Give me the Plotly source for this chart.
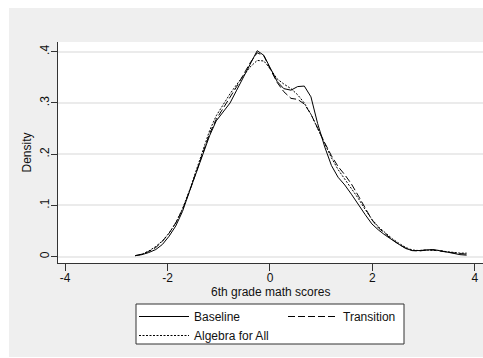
import plotly.graph_objects as go

# Kernel density estimates of standardized 6th grade math scores (50-point grid)
score_grid = [
    -2.63, -2.50, -2.37, -2.23, -2.10, -1.97, -1.84, -1.71, -1.57, -1.44,
    -1.31, -1.18, -1.05, -0.91, -0.78, -0.65, -0.52, -0.39, -0.25, -0.12,
    0.01, 0.14, 0.27, 0.41, 0.54, 0.67, 0.80, 0.93, 1.07, 1.20,
    1.33, 1.46, 1.59, 1.73, 1.86, 1.99, 2.12, 2.25, 2.39, 2.52,
    2.65, 2.78, 2.91, 3.05, 3.18, 3.31, 3.44, 3.57, 3.71, 3.84,
]

baseline_density = [
    0.002, 0.004, 0.008, 0.014, 0.024, 0.040, 0.060, 0.088, 0.128, 0.165,
    0.200, 0.236, 0.265, 0.283, 0.300, 0.325, 0.351, 0.377, 0.402, 0.393,
    0.367, 0.342, 0.328, 0.325, 0.332, 0.333, 0.312, 0.260, 0.214, 0.178,
    0.155, 0.140, 0.122, 0.100, 0.082, 0.064, 0.052, 0.042, 0.032, 0.024,
    0.016, 0.012, 0.012, 0.013, 0.014, 0.012, 0.009, 0.006, 0.004, 0.003,
]

transition_density = [
    0.002, 0.005, 0.010, 0.018, 0.030, 0.046, 0.066, 0.092, 0.128, 0.166,
    0.202, 0.240, 0.268, 0.290, 0.310, 0.332, 0.355, 0.378, 0.398, 0.392,
    0.365, 0.340, 0.322, 0.309, 0.307, 0.298, 0.278, 0.250, 0.222, 0.197,
    0.176, 0.160, 0.142, 0.118, 0.094, 0.072, 0.056, 0.044, 0.033, 0.024,
    0.017, 0.012, 0.011, 0.013, 0.013, 0.011, 0.009, 0.007, 0.006, 0.005,
]

algebra_density = [
    0.002, 0.005, 0.011, 0.020, 0.031, 0.046, 0.066, 0.093, 0.130, 0.170,
    0.208, 0.246, 0.275, 0.298, 0.318, 0.336, 0.354, 0.370, 0.383, 0.382,
    0.366, 0.347, 0.337, 0.328, 0.316, 0.300, 0.278, 0.250, 0.220, 0.193,
    0.170, 0.152, 0.134, 0.113, 0.092, 0.073, 0.058, 0.046, 0.035, 0.026,
    0.018, 0.013, 0.012, 0.013, 0.013, 0.012, 0.010, 0.008, 0.007, 0.007,
]

series_names = ["Baseline", "Transition", "Algebra for All"]
series_values = [baseline_density, transition_density, algebra_density]
series_dash = ["solid", "7px,3px", "2px,1.5px"]

x_tick_vals = [-4, -2, 0, 2, 4]
x_tick_text = ["-4", "-2", "0", "2", "4"]
y_tick_vals = [0, 0.1, 0.2, 0.3, 0.4]
y_tick_text = ["0", ".1", ".2", ".3", ".4"]

FONT = "Liberation Sans, Arial, sans-serif"
INK = "#111111"

fig = go.Figure()
for name, vals, dash in zip(series_names, series_values, series_dash):
    fig.add_trace(go.Scatter(
        x=score_grid, y=vals, name=name, mode="lines",
        line=dict(color="black", width=1, dash=dash),
        hoverinfo="skip",
    ))

W, H = 483, 358
ML, MR, MT, MB = 58, 0, 42, 95
pw, ph = W - ML - MR, H - MT - MB


def px_to_paper_x(px):
    return (px - ML) / pw


def px_to_paper_y(py):
    return (H - MB - py) / ph


shapes = [
    # thin white border around the light grey graph region
    dict(type="rect", xref="paper", yref="paper", layer="below",
         x0=px_to_paper_x(0), x1=px_to_paper_x(W), y0=px_to_paper_y(8), y1=px_to_paper_y(0),
         fillcolor="white", line=dict(width=0)),
    dict(type="rect", xref="paper", yref="paper", layer="below",
         x0=px_to_paper_x(0), x1=px_to_paper_x(9), y0=px_to_paper_y(H), y1=px_to_paper_y(0),
         fillcolor="white", line=dict(width=0)),
    dict(type="rect", xref="paper", yref="paper", layer="below",
         x0=px_to_paper_x(0), x1=px_to_paper_x(W), y0=px_to_paper_y(H), y1=px_to_paper_y(357),
         fillcolor="white", line=dict(width=0)),
    # framed white box behind the legend
    dict(type="rect", xref="paper", yref="paper", layer="below",
         x0=px_to_paper_x(136), x1=px_to_paper_x(404),
         y0=px_to_paper_y(344), y1=px_to_paper_y(304),
         fillcolor="white", line=dict(color="#333333", width=1)),
]

annotations = [
    dict(text="6th grade math scores", xref="paper", yref="paper",
         x=px_to_paper_x(270), y=px_to_paper_y(291.5), xanchor="center", yanchor="middle",
         showarrow=False, font=dict(family=FONT, size=12, color=INK)),
]

fig.update_layout(
    width=W, height=H,
    margin=dict(l=ML, r=MR, t=MT, b=MB, pad=0, autoexpand=False),
    paper_bgcolor="#efefef",
    plot_bgcolor="white",
    font=dict(family=FONT, size=12, color=INK),
    shapes=shapes,
    annotations=annotations,
    showlegend=True,
    legend=dict(
        orientation="h",
        x=px_to_paper_x(134), xanchor="left",
        y=px_to_paper_y(302), yanchor="top",
        bgcolor="rgba(0,0,0,0)", borderwidth=0,
        font=dict(family=FONT, size=12, color=INK),
        entrywidth=84, entrywidthmode="pixels",
        itemwidth=50,
        traceorder="normal",
    ),
    xaxis=dict(
        range=[-4.14, 4.16], tickvals=x_tick_vals, ticktext=x_tick_text,
        ticks="outside", ticklen=7, tickcolor="#333333", tickwidth=1,
        ticklabelstandoff=-3,
        showline=True, linecolor="#333333", linewidth=1,
        showgrid=False, zeroline=False,
        tickfont=dict(size=12, color=INK),
    ),
    yaxis=dict(
        range=[-0.0123, 0.419], tickvals=y_tick_vals, ticktext=y_tick_text,
        ticks="outside", ticklen=6, tickcolor="#333333", tickwidth=1,
        tickangle=-90, ticklabelstandoff=-3,
        showline=True, linecolor="#333333", linewidth=1,
        showgrid=True, gridcolor="#ebebeb", gridwidth=1.5,
        zeroline=False,
        tickfont=dict(size=12, color=INK),
        title=dict(text="Density", standoff=4, font=dict(size=12, color=INK)),
    ),
)

fig.write_html("out.html")
